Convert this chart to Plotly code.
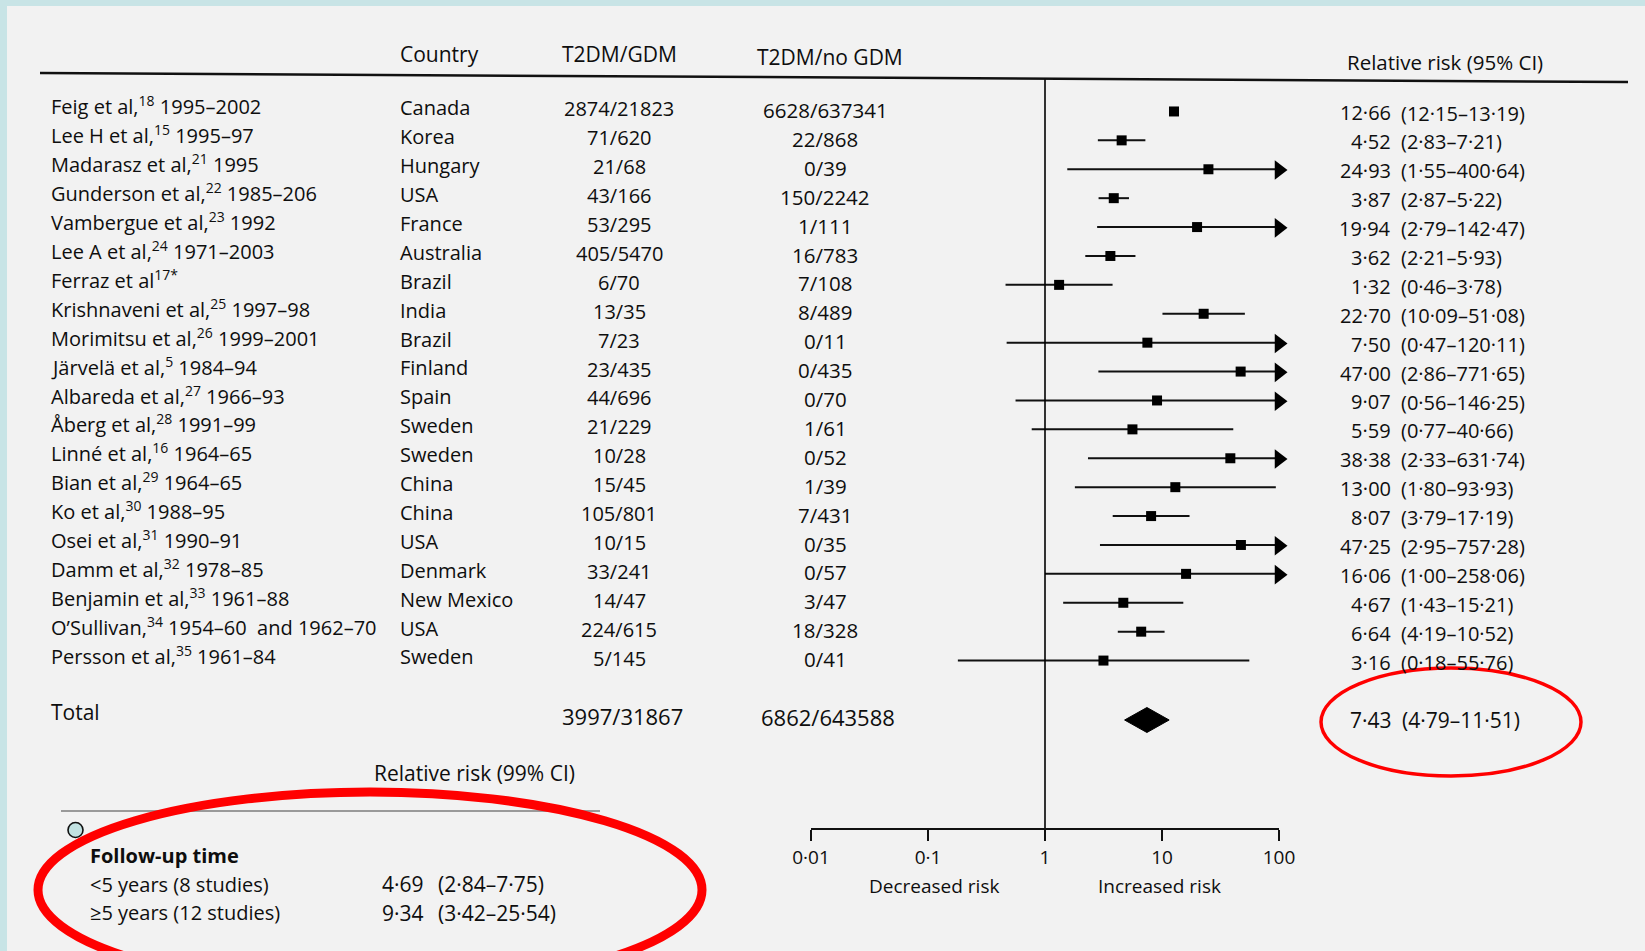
import plotly.graph_objects as go

W, H = 1645, 951

# ---------------- data ----------------
authors = ["Feig et al,", "Lee H et al,", "Madarasz et al,", "Gunderson et al,", "Vambergue et al,",
           "Lee A et al,", "Ferraz et al", "Krishnaveni et al,", "Morimitsu et al,", "Järvelä et al,",
           "Albareda et al,", "Åberg et al,", "Linné et al,", "Bian et al,", "Ko et al,",
           "Osei et al,", "Damm et al,", "Benjamin et al,", "O’Sullivan,", "Persson et al,"]
refs = ["18", "15", "21", "22", "23", "24", "17*", "25", "26", "5",
        "27", "28", "16", "29", "30", "31", "32", "33", "34", "35"]
years = ["1995–2002", "1995–97", "1995", "1985–206", "1992", "1971–2003", "", "1997–98", "1999–2001", "1984–94",
         "1966–93", "1991–99", "1964–65", "1964–65", "1988–95", "1990–91", "1978–85", "1961–88",
         "1954–60  and 1962–70", "1961–84"]
countries = ["Canada", "Korea", "Hungary", "USA", "France", "Australia", "Brazil", "India", "Brazil", "Finland",
             "Spain", "Sweden", "Sweden", "China", "China", "USA", "Denmark", "New Mexico", "USA", "Sweden"]
t2dm_gdm = ["2874/21823", "71/620", "21/68", "43/166", "53/295", "405/5470", "6/70", "13/35", "7/23", "23/435",
            "44/696", "21/229", "10/28", "15/45", "105/801", "10/15", "33/241", "14/47", "224/615", "5/145"]
t2dm_nogdm = ["6628/637341", "22/868", "0/39", "150/2242", "1/111", "16/783", "7/108", "8/489", "0/11", "0/435",
              "0/70", "1/61", "0/52", "1/39", "7/431", "0/35", "0/57", "3/47", "18/328", "0/41"]
rr = [12.66, 4.52, 24.93, 3.87, 19.94, 3.62, 1.32, 22.70, 7.50, 47.00,
      9.07, 5.59, 38.38, 13.00, 8.07, 47.25, 16.06, 4.67, 6.64, 3.16]
lo = [12.15, 2.83, 1.55, 2.87, 2.79, 2.21, 0.46, 10.09, 0.47, 2.86,
      0.56, 0.77, 2.33, 1.80, 3.79, 2.95, 1.00, 1.43, 4.19, 0.18]
hi = [13.19, 7.21, 400.64, 5.22, 142.47, 5.93, 3.78, 51.08, 120.11, 771.65,
      146.25, 40.66, 631.74, 93.93, 17.19, 757.28, 258.06, 15.21, 10.52, 55.76]

total_gdm = "3997/31867"
total_nogdm = "6862/643588"
total_rr, total_lo, total_hi = 7.43, 4.79, 11.51

tick_vals = [0.01, 0.1, 1, 10, 100]
tick_text = ["0·01", "0·1", "1", "10", "100"]

sub_labels = ["<5 years (8 studies)", "≥5 years (12 studies)"]
sub_rr = [4.69, 9.34]
sub_lo = [2.84, 3.42]
sub_hi = [7.75, 25.54]

# ---------------- layout helpers ----------------
FONT = "Open Sans"
TXT = "#0e0e0e"
FS = 20
X_LO_PX, X_HI_PX = 811, 1279     # pixel span of 0.01 .. 100
AXIS_Y = 829
ROW0, DY = 106, 28.9
SKEW = 0.0052                    # scan is slightly rotated
CAP = 100


def fmt(v):
    return f"{v:.2f}".replace(".", "·")


def ry(i, x):
    return ROW0 + DY * i + SKEW * (x - 49)


def px(x):
    return x / W


def py(y):
    return 1 - y / H


annotations = []


def text(x, y, s, anchor="left", size=FS, color=TXT, family=FONT):
    annotations.append(dict(x=px(x), y=py(y), xref="paper", yref="paper", text=s,
                            showarrow=False, xanchor=anchor, yanchor="middle",
                            font=dict(family=family, size=size, color=color)))


fig = go.Figure()

# headers
text(398, 54, "Country", size=21)
text(619, 54, "T2DM/GDM", anchor="center", size=21)
text(830, 57, "T2DM/no GDM", anchor="center", size=21)
text(1345, 62, "Relative risk (95% CI)", size=20.5)

n = len(authors)
for i in range(n):
    lab = f"{authors[i]}<sup>{refs[i]}</sup>" + (f" {years[i]}" if years[i] else "")
    text(49, ry(i, 49), lab)
    text(398, ry(i, 398), countries[i])
    text(619, ry(i, 619), t2dm_gdm[i], anchor="center")
    text(825, ry(i, 825), t2dm_nogdm[i], anchor="center", size=20.5)
    text(1393, ry(i, 1393), fmt(rr[i]), anchor="right")
    text(1399, ry(i, 1399), f"({fmt(lo[i])}–{fmt(hi[i])})")

# total row
TOT_Y = 716
text(49, TOT_Y - 4, "Total", size=21)
text(622, TOT_Y, total_gdm, anchor="center", size=22)
text(828, TOT_Y + 1, total_nogdm, anchor="center", size=22)
text(1394, TOT_Y + 4, fmt(total_rr), anchor="right", size=21)
text(1400, TOT_Y + 4, f"({fmt(total_lo)}–{fmt(total_hi)})", size=21)

# axis captions
text(934, 886, "Decreased risk", anchor="center", size=19)
text(1159, 886, "Increased risk", anchor="center", size=19)

# bottom sub-table
text(372, 773, "Relative risk (99% CI)", size=21)
text(88, 855, "<b>Follow-up time</b>", size=20)
for k in range(len(sub_labels)):
    yk = 884 + 28.5 * k
    text(88, yk, sub_labels[k], size=20)
    text(380, yk, fmt(sub_rr[k]), size=21)
    text(436, yk, f"({fmt(sub_lo[k])}–{fmt(sub_hi[k])})", size=21)

# ---------------- forest traces ----------------
for i in range(n):
    yy = ry(i, 1100)
    fig.add_trace(go.Scatter(x=[lo[i], min(hi[i], CAP)], y=[yy, yy], mode="lines",
                             line=dict(color="#111111", width=2), hoverinfo="skip",
                             showlegend=False, xaxis="x", yaxis="y"))
arr_y = [ry(i, 1250) for i in range(n) if hi[i] > CAP]
fig.add_trace(go.Scatter(x=[CAP] * len(arr_y), y=arr_y, mode="markers",
                         marker=dict(symbol="triangle-right", size=17, color="#000000"),
                         cliponaxis=False, hoverinfo="skip", showlegend=False))
fig.add_trace(go.Scatter(x=rr, y=[ry(i, 1100) for i in range(n)], mode="markers",
                         marker=dict(symbol="square", size=10, color="#000000"),
                         cliponaxis=False, hoverinfo="skip", showlegend=False))
DH = 12.5
DYC = 720
fig.add_trace(go.Scatter(x=[total_lo, total_rr, total_hi, total_rr, total_lo],
                         y=[DYC, DYC - DH, DYC, DYC + DH, DYC], mode="lines", fill="toself",
                         fillcolor="#000000", line=dict(color="#000000", width=1),
                         hoverinfo="skip", showlegend=False))
fig.add_trace(go.Scatter(x=[1, 1], y=[79, AXIS_Y], mode="lines",
                         line=dict(color="#000000", width=1.6), hoverinfo="skip",
                         showlegend=False, cliponaxis=False))

# ---------------- shapes ----------------
shapes = [
    dict(type="rect", xref="paper", yref="paper", x0=px(7), x1=1, y0=0, y1=py(6),
         fillcolor="#f2f2f2", line=dict(width=0), layer="below"),
    dict(type="line", xref="paper", yref="paper", x0=px(40), y0=py(73), x1=px(1628), y1=py(82),
         line=dict(color="#111111", width=2.5)),
    dict(type="line", xref="paper", yref="paper", x0=px(61), y0=py(811), x1=px(600), y1=py(811),
         line=dict(color="#7c7c7c", width=1.6)),
    dict(type="circle", xref="paper", yref="paper", x0=px(68), x1=px(83), y0=py(822.5), y1=py(837.5),
         fillcolor="#c2e2e2", line=dict(color="#111111", width=1.6)),
    dict(type="circle", xref="paper", yref="paper", x0=px(370 - 332), x1=px(370 + 332),
         y0=py(890 - 98), y1=py(890 + 98), line=dict(color="#ff0000", width=9)),
    dict(type="circle", xref="paper", yref="paper", x0=px(1451 - 130), x1=px(1451 + 130),
         y0=py(722 - 54), y1=py(722 + 54), line=dict(color="#ff0000", width=3.5)),
]

fig.update_layout(
    width=W, height=H,
    autosize=False,
    margin=dict(l=0, r=0, t=0, b=0, pad=0, autoexpand=False),
    paper_bgcolor="#c8e4e6",
    plot_bgcolor="rgba(0,0,0,0)",
    showlegend=False,
    annotations=annotations,
    shapes=shapes,
    xaxis=dict(type="log", range=[-2, 2], domain=[px(X_LO_PX), px(X_HI_PX)],
               anchor="free", position=py(AXIS_Y), side="bottom", automargin=False,
               showline=True, linecolor="#111111", linewidth=2,
               ticks="outside", ticklen=11, tickwidth=2, tickcolor="#111111",
               tickvals=tick_vals, ticktext=tick_text,
               tickfont=dict(family=FONT, size=19, color=TXT),
               showgrid=False, zeroline=False, fixedrange=True),
    yaxis=dict(range=[H, 0], domain=[0, 1], visible=False, fixedrange=True, automargin=False),
)

fig.write_html("out.html", config={"displayModeBar": False, "responsive": False},
               post_script="document.body.style.margin='0';document.body.style.overflow='hidden';"
                           "document.body.style.background='#c8e4e6';")
